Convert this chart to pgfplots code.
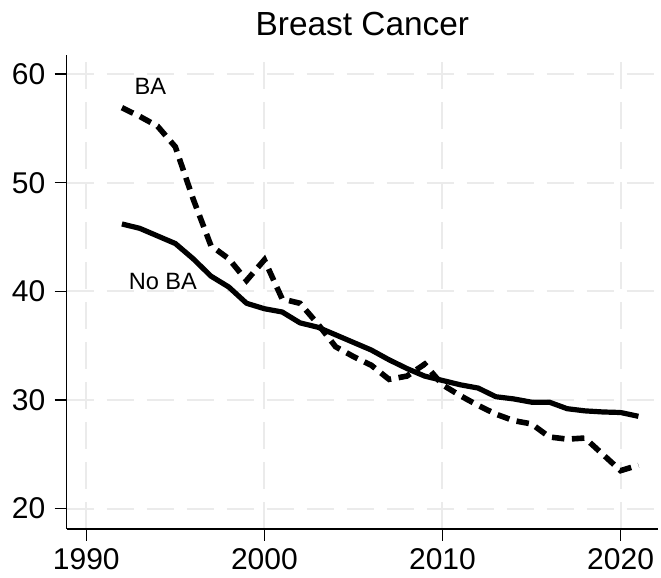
\documentclass[border=0pt]{standalone}
\usepackage{fontspec}
\setmainfont{Liberation Sans}
\usepackage{pgfplots}
\pgfplotsset{compat=1.18}

% No BA (solid) and BA (dashed), rate by year
\pgfplotstableread{
year noba ba
1992 46.2 56.9
1993 45.8 56.1
1994 45.1 55.2
1995 44.4 53.3
1996 43.0 48.5
1997 41.4 44.2
1998 40.4 43.0
1999 38.9 41.0
2000 38.4 42.9
2001 38.1 39.3
2002 37.1 38.9
2003 36.7 37.0
2004 36.0 34.9
2005 35.3 34.0
2006 34.6 33.2
2007 33.7 31.9
2008 32.9 32.2
2009 32.2 33.3
2010 31.8 31.4
2011 31.4 30.4
2012 31.1 29.5
2013 30.3 28.7
2014 30.1 28.1
2015 29.8 27.8
2016 29.8 26.6
2017 29.2 26.4
2018 29.0 26.5
2019 28.9 25.0
2020 28.85 23.5
2021 28.5 24.0
}\cancer

\begin{document}
\begin{tikzpicture}
\begin{axis}[name=ax, scale only axis, width=295.65pt, height=237pt,
  xmin=1988.9, xmax=2022.1, ymin=18.13, ymax=61.75,
  axis lines*=left, axis line style={line width=0.6pt, -},
  xtick={1990,2000,2010,2020}, ytick={20,30,40,50,60},
  tick align=outside, major tick length=6pt, tick style={line width=0.6pt, black},
  grid=major, major grid style={line width=1pt, color=black!8, dash pattern=on 13.5pt off 6.5pt},
  ticklabel style={font=\fontsize{15}{18}\selectfont},
  /pgf/number format/assume math mode=true,
  /pgf/number format/1000 sep={},
  xticklabel style={inner sep=0pt, yshift=-3.5pt},
  yticklabel style={inner sep=0pt, xshift=-4.5pt},
  title={Breast Cancer},
  title style={font=\fontsize{16.7}{20}\selectfont, at={(0.5,1)}, anchor=base, yshift=4pt, inner sep=0pt},
]
\addplot[black, line width=2.6pt, line join=round] table[x=year, y=noba] {\cancer};
\addplot[black, line width=2.8pt, dash pattern=on 6.25pt off 3.75pt] table[x=year, y=ba] {\cancer};
\node[font=\fontsize{11.8}{14}\selectfont] at (axis cs:1993.6,58.9) {BA};
\node[font=\fontsize{11.8}{14}\selectfont] at (axis cs:1994.3,40.9) {No BA};
\end{axis}
\pgfresetboundingbox
\path ([xshift=-33.35pt,yshift=-24.5pt]ax.south west) rectangle ([xshift=1.5pt,yshift=27.5pt]ax.north east);
\end{tikzpicture}
\end{document}
